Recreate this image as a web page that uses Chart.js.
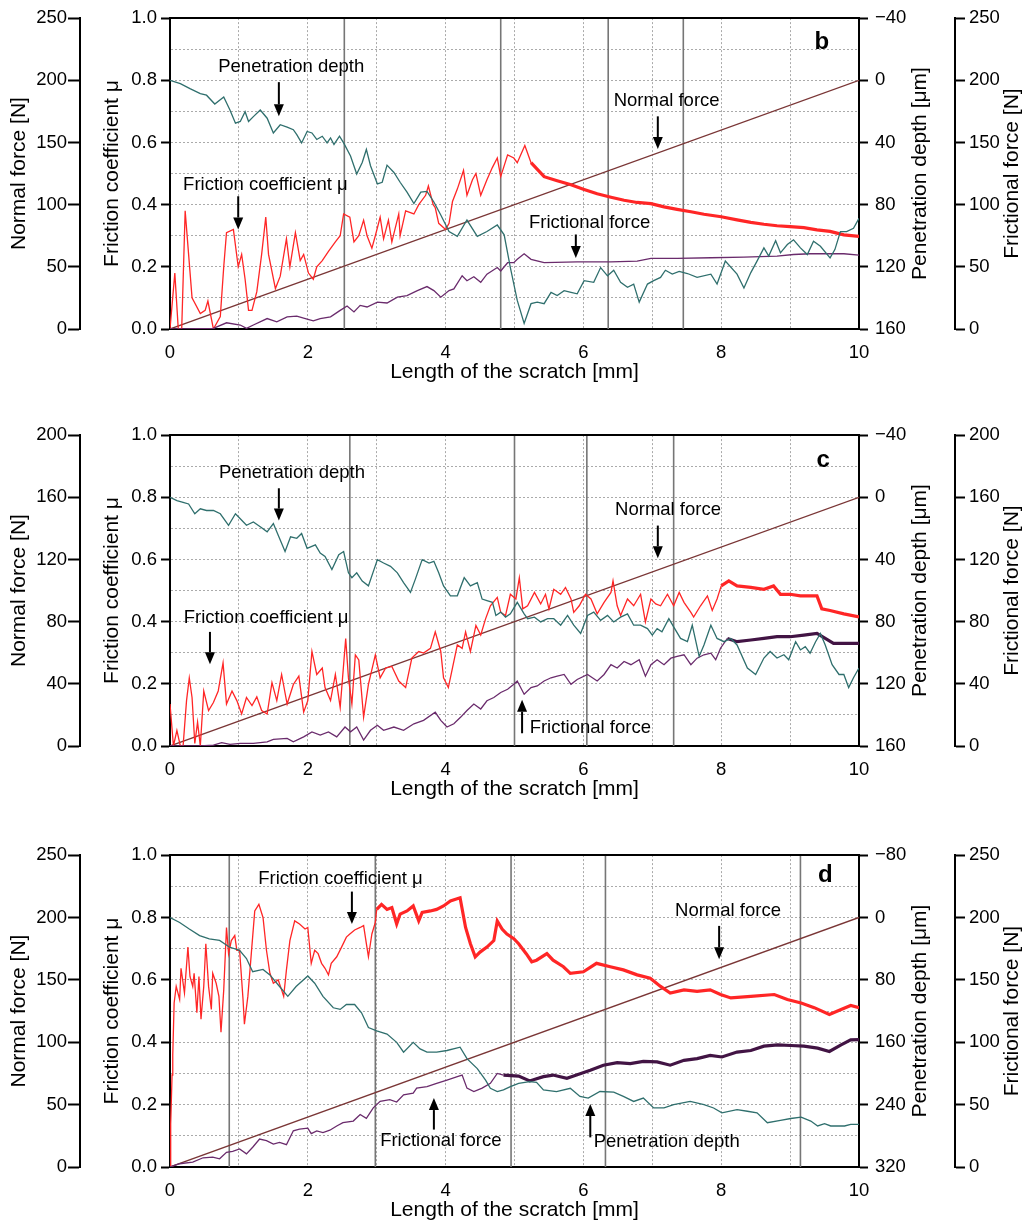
<!DOCTYPE html>
<html>
<head>
<meta charset="utf-8">
<script src="https://cdn.jsdelivr.net/npm/chart.js@4.4.1/dist/chart.umd.min.js"></script>
<style>
  body { margin: 0; background: #fff; }
  canvas.panel { position: absolute; left: 0; }
</style>
</head>
<body>
<canvas id="chartB" class="panel" width="1031" height="385" style="top:0px"></canvas>
<canvas id="chartC" class="panel" width="1031" height="385" style="top:417px"></canvas>
<canvas id="chartD" class="panel" width="1031" height="386" style="top:837px"></canvas>
<script>
// ---- data: [length mm, value] ----
const bNormal = [[0, 0], [10, 200]];
const cNormal = [[0, 0], [10, 160]];
const dNormal = [[0, 0], [10, 200]];

const bMu = [[0,0],[0.07,0.18],[0.12,0],[0.17,0],[0.22,0.38],[0.32,0.10],[0.44,0.05],[0.51,0.06],[0.55,0.09],[0.63,0],[0.73,0.04],[0.78,0.20],[0.82,0.31],[0.92,0.32],[0.99,0.20],[1.04,0.24],[1.09,0.16],[1.14,0.06],[1.19,0.06],[1.26,0.12],[1.33,0.24],[1.39,0.36],[1.43,0.24],[1.53,0.13],[1.60,0.17],[1.69,0.29],[1.74,0.20],[1.82,0.31],[1.89,0.22],[1.94,0.24],[2.01,0.18],[2.08,0.16],[2.13,0.20],[2.21,0.22],[2.30,0.25],[2.40,0.28],[2.47,0.30],[2.52,0.37],[2.61,0.36],[2.67,0.28],[2.74,0.30],[2.81,0.35],[2.86,0.30],[2.93,0.26],[2.98,0.30],[3.05,0.36],[3.10,0.29],[3.17,0.35],[3.22,0.28],[3.32,0.37],[3.34,0.30],[3.42,0.38],[3.54,0.37],[3.61,0.40],[3.71,0.43],[3.75,0.46],[3.82,0.40],[3.85,0.39],[3.90,0.34],[4.00,0.32],[4.05,0.34],[4.10,0.41],[4.17,0.45],[4.26,0.51],[4.31,0.43],[4.39,0.48],[4.44,0.50],[4.51,0.43],[4.60,0.48],[4.68,0.52],[4.75,0.55],[4.80,0.49],[4.90,0.56],[4.99,0.55],[5.04,0.535],[5.15,0.59],[5.24,0.535],[5.43,0.49],[5.62,0.477],[5.82,0.464],[6.01,0.449],[6.20,0.435],[6.40,0.424],[6.59,0.414],[6.78,0.407],[6.98,0.403],[7.17,0.393],[7.36,0.385],[7.56,0.377],[7.75,0.369],[8.00,0.361],[8.23,0.351],[8.43,0.343],[8.62,0.337],[8.81,0.332],[9.00,0.329],[9.20,0.326],[9.39,0.319],[9.58,0.314],[9.78,0.303],[10,0.298]];
const bDepth = [[0,0],[0.15,2.2],[0.29,5.4],[0.44,8.6],[0.53,9.6],[0.65,15.3],[0.78,10.7],[0.87,19.1],[0.95,27.6],[1.02,26.5],[1.09,20.2],[1.14,26.5],[1.21,23.4],[1.31,19.1],[1.41,24.4],[1.50,33.9],[1.60,28.6],[1.70,30.1],[1.79,31.8],[1.84,35.0],[1.91,40.3],[1.99,32.9],[2.06,33.9],[2.13,38.1],[2.21,36.0],[2.28,40.3],[2.33,37.1],[2.38,41.3],[2.46,36.0],[2.52,40.3],[2.62,48.7],[2.71,60.3],[2.79,52.9],[2.85,44.5],[2.91,55.0],[3.01,66.7],[3.08,65.6],[3.15,54.6],[3.25,59.3],[3.34,65.6],[3.44,71.9],[3.54,79.3],[3.64,71.9],[3.73,71.5],[3.83,78.3],[3.93,86.7],[4.05,97.3],[4.17,100.4],[4.31,89.9],[4.46,100.4],[4.60,97.3],[4.75,93.1],[4.85,99.4],[4.94,120.5],[5.04,141.6],[5.14,156.4],[5.24,143.7],[5.33,142.7],[5.43,143.7],[5.53,136.4],[5.62,138.5],[5.72,135.3],[5.82,136.4],[5.91,137.4],[6.01,128.9],[6.15,130.0],[6.25,120.5],[6.35,125.8],[6.44,122.2],[6.54,130.0],[6.64,133.2],[6.73,131.1],[6.81,142.7],[6.93,131.1],[7.02,128.9],[7.12,126.8],[7.19,122.2],[7.29,124.7],[7.39,123.0],[7.51,124.3],[7.65,126.8],[7.85,124.7],[7.94,131.1],[8.06,116.3],[8.23,124.7],[8.33,133.6],[8.43,123.7],[8.52,116.3],[8.62,107.8],[8.69,113.1],[8.79,103.2],[8.86,111.0],[8.96,105.7],[9.05,102.6],[9.15,107.8],[9.25,112.1],[9.34,103.6],[9.44,106.8],[9.58,114.2],[9.65,108.9],[9.73,97.3],[9.82,97.3],[9.92,95.2],[10,88.8]];
const bForce = [[0,0],[0.15,0],[0.63,0.5],[0.82,5.0],[1.02,3.2],[1.11,0.5],[1.21,3.2],[1.41,8.4],[1.55,5.8],[1.70,9.8],[1.84,10.3],[1.99,7.9],[2.08,6.6],[2.18,8.4],[2.33,9.8],[2.47,15.0],[2.57,18.5],[2.67,13.7],[2.76,19.0],[2.86,17.7],[3.01,21.6],[3.15,20.9],[3.30,25.6],[3.44,26.9],[3.59,30.9],[3.73,34.1],[3.83,30.9],[3.93,25.6],[4.05,30.9],[4.12,32.2],[4.24,42.8],[4.31,38.8],[4.41,42.0],[4.51,37.5],[4.60,44.1],[4.75,49.4],[4.80,46.7],[4.90,53.3],[4.99,53.3],[5.04,56.0],[5.14,60.5],[5.24,56.0],[5.43,53.3],[5.91,53.9],[6.40,53.9],[6.78,54.6],[6.98,56.8],[7.36,56.8],[7.85,57.3],[8.33,57.8],[8.81,58.6],[9.05,59.9],[9.29,60.5],[9.78,60.5],[10,59.4]];

const cMu = [[0,0.135],[0.05,0],[0.10,0.05],[0.15,0],[0.19,0],[0.24,0.146],[0.28,0.219],[0.32,0.156],[0.36,0.008],[0.40,0.077],[0.44,0],[0.49,0.177],[0.56,0.114],[0.63,0.140],[0.70,0.177],[0.77,0.267],[0.82,0.135],[0.90,0.177],[0.97,0.146],[1.04,0.103],[1.11,0.156],[1.19,0.130],[1.26,0.158],[1.33,0.114],[1.41,0.103],[1.48,0.204],[1.55,0.146],[1.62,0.230],[1.70,0.135],[1.79,0.198],[1.87,0.225],[1.94,0.109],[2.00,0.146],[2.06,0.304],[2.13,0.230],[2.21,0.251],[2.25,0.188],[2.33,0.146],[2.40,0.230],[2.47,0.124],[2.55,0.346],[2.59,0.219],[2.64,0.135],[2.69,0.293],[2.74,0.277],[2.81,0.093],[2.88,0.198],[2.98,0.293],[3.05,0.219],[3.13,0.251],[3.22,0.256],[3.32,0.209],[3.42,0.188],[3.51,0.283],[3.61,0.304],[3.68,0.299],[3.78,0.314],[3.85,0.367],[3.93,0.304],[3.97,0.219],[4.04,0.188],[4.10,0.251],[4.17,0.325],[4.24,0.314],[4.29,0.367],[4.36,0.304],[4.44,0.388],[4.51,0.357],[4.58,0.409],[4.65,0.451],[4.75,0.478],[4.80,0.430],[4.87,0.420],[4.94,0.488],[5.02,0.473],[5.07,0.541],[5.12,0.441],[5.19,0.451],[5.29,0.494],[5.38,0.457],[5.45,0.488],[5.50,0.441],[5.57,0.504],[5.67,0.488],[5.74,0.510],[5.82,0.473],[5.86,0.430],[5.94,0.451],[6.03,0.488],[6.11,0.473],[6.20,0.425],[6.30,0.462],[6.40,0.494],[6.43,0.531],[6.49,0.451],[6.54,0.420],[6.64,0.473],[6.73,0.451],[6.83,0.488],[6.90,0.399],[6.98,0.473],[7.05,0.457],[7.12,0.451],[7.22,0.488],[7.31,0.451],[7.39,0.494],[7.46,0.462],[7.56,0.430],[7.60,0.415],[7.70,0.451],[7.80,0.483],[7.87,0.436],[7.94,0.473],[8.00,0.515],[8.11,0.531],[8.23,0.515],[8.43,0.510],[8.62,0.504],[8.76,0.515],[8.86,0.488],[9.00,0.488],[9.15,0.483],[9.39,0.483],[9.46,0.441],[9.58,0.436],[9.78,0.425],[10,0.415]];
const cDepth = [[0,0],[0.10,2.2],[0.19,3.2],[0.27,4.3],[0.36,10.6],[0.44,7.4],[0.53,8.5],[0.63,8.5],[0.73,10.6],[0.85,18.0],[0.95,10.6],[1.02,13.8],[1.11,18.0],[1.21,15.9],[1.31,19.0],[1.41,22.2],[1.50,16.9],[1.58,25.4],[1.67,34.9],[1.75,25.4],[1.84,26.4],[1.91,23.3],[1.99,32.8],[2.11,30.6],[2.18,35.9],[2.25,38.0],[2.35,46.5],[2.45,37.0],[2.52,34.9],[2.59,48.6],[2.64,51.7],[2.71,48.6],[2.79,53.9],[2.88,57.0],[3.01,40.1],[3.10,42.3],[3.20,44.4],[3.30,48.6],[3.39,54.9],[3.49,61.2],[3.56,52.8],[3.66,40.1],[3.76,42.3],[3.83,41.2],[3.90,48.6],[3.97,57.0],[4.07,63.4],[4.17,63.4],[4.27,51.7],[4.36,57.0],[4.46,54.9],[4.53,65.5],[4.60,66.5],[4.68,67.6],[4.73,76.0],[4.80,73.9],[4.87,77.1],[4.94,75.0],[5.04,67.6],[5.14,75.0],[5.19,78.1],[5.29,77.1],[5.38,80.2],[5.48,78.1],[5.57,78.1],[5.67,82.3],[5.77,76.0],[5.86,82.3],[5.96,87.6],[6.06,76.0],[6.15,73.9],[6.25,79.2],[6.35,76.0],[6.44,80.2],[6.54,77.1],[6.64,75.0],[6.73,82.3],[6.83,82.3],[6.93,84.5],[7.00,88.7],[7.07,84.5],[7.14,86.6],[7.24,78.1],[7.31,83.4],[7.41,90.8],[7.51,92.9],[7.58,82.3],[7.68,102.4],[7.75,95.0],[7.85,82.3],[7.94,90.8],[8.04,92.9],[8.14,90.8],[8.23,95.0],[8.38,109.8],[8.50,114.0],[8.62,103.4],[8.71,99.2],[8.81,103.4],[8.91,101.3],[8.98,104.5],[9.08,92.9],[9.15,98.2],[9.22,96.1],[9.29,100.3],[9.37,92.9],[9.44,87.6],[9.51,95.0],[9.61,107.7],[9.71,114.0],[9.78,114.0],[9.85,122.4],[9.92,116.1],[10,109.8]];
const cForce = [[0,0],[0.44,0],[0.63,0.6],[0.75,2.1],[0.87,1.1],[1.02,1.7],[1.21,1.7],[1.41,2.7],[1.50,4.2],[1.70,4.9],[1.79,2.7],[1.94,5.9],[2.06,9.1],[2.18,7.0],[2.30,9.1],[2.42,5.9],[2.54,12.2],[2.62,9.1],[2.71,12.2],[2.81,3.8],[2.91,10.1],[3.01,13.3],[3.10,10.1],[3.25,12.2],[3.39,10.1],[3.54,14.3],[3.68,16.5],[3.85,21.7],[3.93,16.5],[4.02,12.2],[4.12,14.3],[4.22,18.6],[4.31,22.8],[4.41,27.0],[4.51,23.8],[4.60,29.1],[4.70,31.2],[4.80,34.4],[4.90,36.5],[4.99,39.7],[5.04,41.8],[5.14,33.3],[5.24,37.6],[5.33,38.6],[5.43,41.8],[5.53,43.9],[5.62,44.9],[5.72,46.0],[5.82,39.7],[5.91,42.8],[6.06,46.0],[6.20,41.8],[6.30,46.0],[6.40,52.3],[6.49,50.2],[6.59,54.4],[6.69,52.3],[6.81,55.5],[6.90,44.9],[6.98,52.3],[7.07,55.5],[7.17,52.3],[7.27,56.5],[7.36,57.6],[7.46,58.7],[7.56,52.3],[7.65,56.5],[7.75,58.7],[7.85,59.7],[7.92,55.5],[7.99,62.9],[8.09,69.2],[8.23,67.1],[8.43,68.2],[8.62,69.2],[8.81,70.3],[9.00,70.3],[9.20,71.3],[9.39,72.4],[9.51,69.2],[9.63,66.0],[9.78,66.0],[10,66.0]];

const dMu = [[0,0],[0.01,0.137],[0.03,0.295],[0.04,0.358],[0.06,0.526],[0.09,0.579],[0.14,0.537],[0.16,0.637],[0.21,0.558],[0.26,0.705],[0.29,0.611],[0.33,0.579],[0.35,0.621],[0.39,0.495],[0.42,0.611],[0.45,0.474],[0.49,0.579],[0.52,0.716],[0.56,0.579],[0.60,0.505],[0.62,0.621],[0.67,0.589],[0.71,0.547],[0.74,0.432],[0.78,0.568],[0.82,0.768],[0.85,0.684],[0.89,0.726],[0.94,0.742],[0.97,0.695],[1.01,0.695],[1.06,0.537],[1.08,0.458],[1.13,0.547],[1.18,0.684],[1.23,0.821],[1.29,0.842],[1.35,0.800],[1.40,0.695],[1.45,0.621],[1.50,0.589],[1.57,0.600],[1.62,0.568],[1.65,0.547],[1.69,0.632],[1.74,0.726],[1.81,0.789],[1.88,0.779],[1.96,0.763],[2.00,0.768],[2.05,0.653],[2.10,0.695],[2.15,0.684],[2.20,0.653],[2.25,0.637],[2.30,0.616],[2.34,0.653],[2.42,0.674],[2.49,0.705],[2.56,0.737],[2.61,0.747],[2.68,0.760],[2.76,0.768],[2.81,0.774],[2.85,0.716],[2.88,0.674],[2.93,0.747],[2.98,0.784],[3.00,0.826],[3.07,0.842],[3.15,0.826],[3.22,0.832],[3.29,0.779],[3.34,0.811],[3.44,0.821],[3.53,0.837],[3.61,0.789],[3.66,0.816],[3.78,0.821],[3.87,0.826],[3.97,0.837],[4.07,0.853],[4.21,0.863],[4.29,0.768],[4.36,0.716],[4.43,0.674],[4.50,0.689],[4.60,0.705],[4.70,0.726],[4.75,0.789],[4.82,0.763],[4.89,0.747],[4.99,0.732],[5.06,0.716],[5.17,0.684],[5.25,0.658],[5.32,0.663],[5.47,0.684],[5.56,0.663],[5.71,0.642],[5.81,0.621],[6.00,0.626],[6.19,0.653],[6.39,0.642],[6.58,0.632],[6.78,0.616],[6.97,0.605],[7.12,0.579],[7.26,0.558],[7.46,0.568],[7.65,0.563],[7.84,0.568],[7.99,0.553],[8.14,0.542],[8.43,0.547],[8.77,0.553],[8.96,0.537],[9.16,0.526],[9.35,0.511],[9.57,0.489],[9.74,0.505],[9.88,0.518],[10,0.511]];
const dDepth = [[0,0],[0.14,6.4],[0.28,14.8],[0.43,23.2],[0.57,27.4],[0.72,29.5],[0.86,37.9],[1.01,42.2],[1.11,52.7],[1.20,69.5],[1.35,66.6],[1.45,73.7],[1.59,88.5],[1.71,101.1],[1.83,88.5],[2.00,75.0],[2.10,84.3],[2.22,101.1],[2.37,115.8],[2.47,117.9],[2.56,111.6],[2.68,111.6],[2.78,122.2],[2.88,141.1],[3.00,145.3],[3.15,149.5],[3.29,160.1],[3.39,172.7],[3.53,160.1],[3.63,168.5],[3.73,172.7],[3.87,172.7],[4.02,170.6],[4.21,166.4],[4.31,181.1],[4.46,193.8],[4.58,208.5],[4.65,219.0],[4.75,223.2],[4.84,221.1],[4.94,216.9],[5.06,212.7],[5.22,210.6],[5.32,211.4],[5.42,221.1],[5.61,223.2],[5.81,219.0],[5.95,229.5],[6.07,231.6],[6.24,223.2],[6.44,224.1],[6.58,229.5],[6.73,235.9],[6.87,231.6],[7.02,244.3],[7.17,244.3],[7.31,240.1],[7.55,235.9],[7.75,240.1],[7.89,244.3],[8.01,250.6],[8.23,246.4],[8.38,248.5],[8.52,250.6],[8.67,263.2],[8.86,260.3],[9.01,257.8],[9.16,256.1],[9.30,261.1],[9.40,267.4],[9.50,264.5],[9.59,267.4],[9.79,267.4],[9.88,265.3],[10,265.3]];
const dForce = [[0,0],[0.14,2.6],[0.33,3.9],[0.48,7.4],[0.62,7.9],[0.72,6.6],[0.82,11.8],[0.91,12.6],[1.01,14.5],[1.11,10.5],[1.20,15.8],[1.30,22.4],[1.40,21.1],[1.50,18.4],[1.59,19.7],[1.69,17.9],[1.79,29.0],[1.88,30.3],[2.00,31.1],[2.05,26.8],[2.13,29.0],[2.22,27.6],[2.32,29.5],[2.42,32.9],[2.51,35.5],[2.66,36.8],[2.76,42.1],[2.85,39.0],[2.95,47.4],[3.05,52.6],[3.19,54.0],[3.29,52.1],[3.39,57.9],[3.53,59.2],[3.58,63.2],[3.73,64.5],[3.87,67.1],[4.02,69.7],[4.17,72.4],[4.24,73.7],[4.31,63.2],[4.41,60.5],[4.53,63.2],[4.65,67.1],[4.75,75.0],[4.84,73.7],[5.06,72.9],[5.22,69.0],[5.42,72.4],[5.56,73.7],[5.76,71.1],[5.90,73.7],[6.10,77.6],[6.29,81.6],[6.49,83.7],[6.68,82.9],[6.87,84.7],[7.07,84.2],[7.26,81.6],[7.46,85.5],[7.65,86.9],[7.84,89.5],[8.01,88.2],[8.23,92.1],[8.43,93.4],[8.62,96.9],[8.82,97.9],[9.01,97.4],[9.20,96.9],[9.40,95.3],[9.57,92.6],[9.74,97.9],[9.88,101.9],[10,102.1]];

// positions of the solid grey marker lines (mm)
const bMarks = [2.53, 4.80, 6.36, 7.45];
const cMarks = [2.61, 5.00, 6.05, 7.31];
const dMarks = [0.86, 2.98, 4.95, 6.32, 9.15];

const FONT = '"Liberation Sans", Arial, Helvetica, sans-serif';
const GRID = '#aaaaaa';
Chart.defaults.font.family = FONT;
Chart.defaults.color = '#000';

function drawArrow(ctx, px, y1, y2) {
    const dir = y2 > y1 ? 1 : -1;
    const head = 12, half = 5;
    ctx.beginPath();
    ctx.moveTo(px, y1);
    ctx.lineTo(px, y2 - dir * head);
    ctx.lineWidth = 2;
    ctx.strokeStyle = '#000';
    ctx.stroke();
    ctx.beginPath();
    ctx.moveTo(px, y2);
    ctx.lineTo(px - half, y2 - dir * head);
    ctx.lineTo(px + half, y2 - dir * head);
    ctx.closePath();
    ctx.fill();
}

// grey marker lines, frame top, labels with arrows, right-hand titles
const overlay = {
    id: 'overlay',
    beforeDatasetsDraw(chart, args, o) {
        const { ctx, chartArea: a, scales: { x } } = chart;
        ctx.save();
        ctx.strokeStyle = '#767676';
        ctx.lineWidth = 1.6;
        o.marks.forEach(m => {
            const px = x.getPixelForValue(m);
            ctx.beginPath();
            ctx.moveTo(px, a.top);
            ctx.lineTo(px, a.bottom);
            ctx.stroke();
        });
        ctx.restore();
    },
    afterDraw(chart, args, o) {
        const { ctx, chartArea: a, scales } = chart;
        const x = scales.x, y = scales.yMu;
        ctx.save();
        ctx.strokeStyle = '#000';
        ctx.lineWidth = 2;
        ctx.beginPath();
        ctx.moveTo(a.left - 1, a.top);
        ctx.lineTo(a.right + 1, a.top);
        ctx.stroke();

        ctx.fillStyle = '#000';
        ctx.font = '18.5px ' + FONT;
        ctx.textBaseline = 'middle';
        ctx.textAlign = 'left';
        o.notes.forEach(n => ctx.fillText(n.text, x.getPixelForValue(n.x), y.getPixelForValue(n.y)));
        o.arrows.forEach(ar => drawArrow(ctx, x.getPixelForValue(ar.x), y.getPixelForValue(ar.from), y.getPixelForValue(ar.to)));

        ctx.font = 'bold 24px ' + FONT;
        ctx.textAlign = 'center';
        ctx.fillText(o.letter.text, x.getPixelForValue(o.letter.x), y.getPixelForValue(o.letter.y) - 2);

        ctx.font = '21px ' + FONT;
        o.rightTitles.forEach(t => {
            const s = scales[t.id];
            ctx.save();
            ctx.translate(s.left + t.dx, (a.top + a.bottom) / 2);
            ctx.rotate(-Math.PI / 2);
            ctx.fillText(t.text, 0, 0);
            ctx.restore();
        });
        ctx.restore();
    }
};

function line(data, color, axis, noisyFrom, noisyColor) {
    return {
        data: data,
        yAxisID: axis,
        borderColor: color,
        borderWidth: 1.3,
        pointRadius: 0,
        tension: 0,
        segment: noisyFrom == null ? undefined : {
            borderWidth: c => c.p0.parsed.x >= noisyFrom ? 3.2 : 1.3,
            borderColor: c => c.p0.parsed.x >= noisyFrom ? (noisyColor || color) : color
        }
    };
}

function makePanel(id, p) {
    const tickFont = { size: 18.5 };
    const titleFont = { size: 21 };
    return new Chart(document.getElementById(id), {
        type: 'line',
        data: {
            datasets: [
                line(p.depth, '#2f6f6d', 'yDepth'),
                line(p.force, '#6a2b6c', 'yF', p.forceNoisy, '#421444'),
                line(p.mu, '#ff2626', 'yMu', p.muNoisy),
                line(p.normal, '#7a3636', 'yN')
            ]
        },
        options: {
            responsive: false,
            animation: false,
            layout: { padding: { top: 13, left: 0, right: 0, bottom: 0 } },
            plugins: {
                legend: { display: false },
                tooltip: { enabled: false },
                overlay: {
                    marks: p.marks,
                    notes: p.notes,
                    arrows: p.arrows,
                    letter: p.letter,
                    rightTitles: [
                        { id: 'yDepth', dx: 61, text: 'Penetration depth [\u03bcm]' },
                        { id: 'yF', dx: 57, text: 'Frictional force [N]' }
                    ]
                }
            },
            scales: {
                x: {
                    type: 'linear', position: 'bottom', min: 0, max: 10,
                    ticks: { stepSize: 1, autoSkip: false, maxRotation: 0, padding: 13, font: tickFont,
                        callback: v => v % 2 === 0 ? String(v) : '' },
                    grid: { color: GRID, drawTicks: false },
                    border: { color: '#000', width: 2, dash: [2, 2] },
                    title: { display: true, text: 'Length of the scratch [mm]', font: titleFont, padding: { top: 0, bottom: 0 } },
                    afterFit: s => { s.height = 56; }
                },
                yMu: {
                    type: 'linear', position: 'left', weight: 1, min: 0, max: 1,
                    ticks: { stepSize: 0.1, autoSkip: false, padding: 4, font: tickFont,
                        callback: (v, i) => i % 2 === 0 ? v.toFixed(1) : '' },
                    grid: { color: GRID, tickLength: 9, tickWidth: 2,
                        tickColor: c => c.index % 2 === 0 ? '#000' : 'rgba(0,0,0,0)' },
                    border: { color: '#000', width: 2, dash: [2, 2] },
                    title: { display: true, text: 'Friction coefficient \u03bc', font: titleFont, padding: { top: 20 } },
                    afterFit: s => { s.width = 90; }
                },
                yN: {
                    type: 'linear', position: 'left', weight: 2, min: 0, max: p.nMax,
                    ticks: { stepSize: p.nStep, padding: 1, font: tickFont },
                    grid: { drawOnChartArea: false, tickLength: 12, tickWidth: 2, tickColor: '#000' },
                    border: { color: '#000', width: 2 },
                    title: { display: true, text: 'Normal force [N]', font: titleFont, padding: { top: 7 } },
                    afterFit: s => { s.width = 80; }
                },
                yDepth: {
                    type: 'linear', position: 'right', weight: 1, min: p.dMin, max: p.dMax, reverse: true,
                    ticks: { stepSize: p.dStep, padding: 7, font: tickFont,
                        callback: v => v < 0 ? '\u2212' + (-v) : String(v) },
                    grid: { drawOnChartArea: false, tickLength: 9, tickWidth: 2, tickColor: '#000' },
                    border: { color: '#000', width: 2 },
                    afterFit: s => { s.width = 96; }
                },
                yF: {
                    type: 'linear', position: 'right', weight: 2, min: 0, max: p.fMax,
                    ticks: { stepSize: p.fStep, padding: 4, font: tickFont },
                    grid: { drawOnChartArea: false, tickLength: 10, tickWidth: 2, tickColor: '#000' },
                    border: { color: '#000', width: 2 },
                    afterFit: s => { s.width = 76; }
                }
            }
        },
        plugins: [overlay]
    });
}

makePanel('chartB', {
    mu: bMu, depth: bDepth, force: bForce, normal: bNormal,
    muNoisy: 5.2, forceNoisy: null,
    nMax: 250, nStep: 50, fMax: 250, fStep: 50, dMin: -40, dMax: 160, dStep: 40,
    marks: bMarks,
    notes: [
        { x: 0.70, y: 0.842, text: 'Penetration depth' },
        { x: 0.19, y: 0.462, text: 'Friction coefficient \u03bc' },
        { x: 6.44, y: 0.734, text: 'Normal force' },
        { x: 5.21, y: 0.342, text: 'Frictional force' }
    ],
    arrows: [
        { x: 1.58, from: 0.794, to: 0.684 },
        { x: 0.99, from: 0.427, to: 0.32 },
        { x: 7.08, from: 0.684, to: 0.579 },
        { x: 5.89, from: 0.304, to: 0.228 }
    ],
    letter: { x: 9.46, y: 0.915, text: 'b' }
});

makePanel('chartC', {
    mu: cMu, depth: cDepth, force: cForce, normal: cNormal,
    muNoisy: 8.0, forceNoisy: 8.0,
    nMax: 200, nStep: 40, fMax: 200, fStep: 40, dMin: -40, dMax: 160, dStep: 40,
    marks: cMarks,
    notes: [
        { x: 0.71, y: 0.877, text: 'Penetration depth' },
        { x: 0.20, y: 0.411, text: 'Friction coefficient \u03bc' },
        { x: 6.46, y: 0.759, text: 'Normal force' },
        { x: 5.22, y: 0.057, text: 'Frictional force' }
    ],
    arrows: [
        { x: 1.58, from: 0.829, to: 0.725 },
        { x: 0.58, from: 0.367, to: 0.263 },
        { x: 7.08, from: 0.709, to: 0.604 },
        { x: 5.11, from: 0.041, to: 0.149 }
    ],
    letter: { x: 9.48, y: 0.911, text: 'c' }
});

makePanel('chartD', {
    mu: dMu, depth: dDepth, force: dForce, normal: dNormal,
    muNoisy: 3.0, forceNoisy: 4.8,
    nMax: 250, nStep: 50, fMax: 250, fStep: 50, dMin: -80, dMax: 320, dStep: 80,
    marks: dMarks,
    notes: [
        { x: 1.28, y: 0.924, text: 'Friction coefficient \u03bc' },
        { x: 3.05, y: 0.085, text: 'Frictional force' },
        { x: 7.33, y: 0.82, text: 'Normal force' },
        { x: 6.15, y: 0.082, text: 'Penetration depth' }
    ],
    arrows: [
        { x: 2.64, from: 0.883, to: 0.779 },
        { x: 3.83, from: 0.12, to: 0.221 },
        { x: 7.97, from: 0.773, to: 0.666 },
        { x: 6.10, from: 0.095, to: 0.202 }
    ],
    letter: { x: 9.51, y: 0.927, text: 'd' }
});
</script>
</body>
</html>
